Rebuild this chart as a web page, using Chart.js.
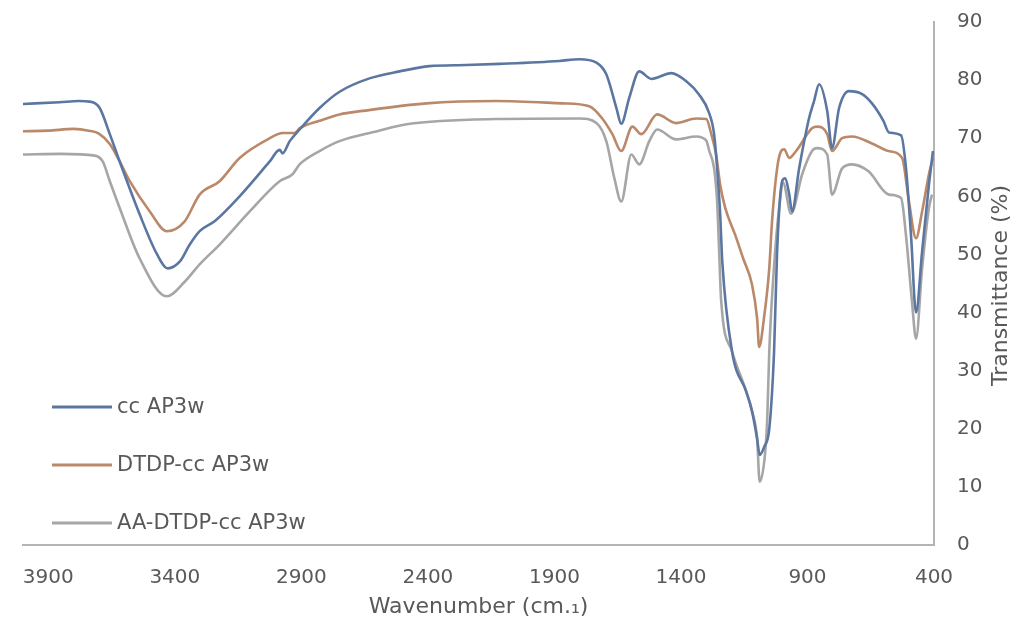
<!DOCTYPE html>
<html>
<head>
<meta charset="utf-8">
<title>FTIR spectra</title>
<script src="https://cdn.jsdelivr.net/npm/chart.js@4.4.1/dist/chart.umd.min.js"></script>
<style>
  html, body { margin: 0; padding: 0; background: #fff; }
</style>
</head>
<body>
<canvas id="ftirChart" width="1016" height="628"></canvas>
<script>
// --- DATA ---
const seriesLabels = ["cc AP3w", "DTDP-cc AP3w", "AA-DTDP-cc AP3w"];
const xTicks = [400, 900, 1400, 1900, 2400, 2900, 3400, 3900];

// cc AP3w
const ccWn = [4000, 3855, 3780, 3736, 3697, 3657, 3618, 3539, 3470, 3428, 3380, 3341, 3302, 3243, 3144, 3025, 2986, 2974, 2946, 2907, 2828, 2749, 2631, 2512, 2394, 2250, 2117, 1881, 1802, 1734, 1695, 1655, 1636, 1604, 1565, 1517, 1438, 1379, 1328, 1290, 1269, 1257, 1245, 1237, 1198, 1142, 1119, 1099, 1089, 1070, 1051, 1032, 1020, 1000, 988, 972, 961, 933, 894, 874, 854, 822, 803, 775, 736, 684, 645, 600, 578, 530, 511, 491, 471, 447, 420, 404];
const ccT  = [75.9, 76.2, 76.4, 76.3, 75.2, 70.7, 66, 56.9, 50, 47.6, 48.8, 51.7, 54, 55.7, 60, 66, 68, 67.4, 69.5, 71.5, 75.2, 78, 80.3, 81.5, 82.4, 82.6, 82.8, 83.3, 83.6, 83, 81, 75.2, 72.5, 77, 81.5, 80.2, 81.2, 79.8, 77.5, 74.5, 70.7, 64.8, 57, 49, 33.3, 26.4, 23, 18.3, 15.5, 17, 20, 33.3, 50.5, 62.6, 63.1, 60.3, 57.4, 64.8, 73.4, 76.4, 79.3, 74.7, 68.3, 75.2, 78.1, 77.6, 76, 73, 71, 70.5, 65, 53.4, 40, 50.5, 62, 67.8];

// DTDP-cc AP3w
const dtdpWn = [4000, 3900, 3800, 3740, 3700, 3657, 3618, 3578, 3499, 3432, 3361, 3302, 3223, 3144, 3025, 2974, 2927, 2907, 2828, 2749, 2658, 2406, 2129, 1869, 1762, 1711, 1671, 1636, 1592, 1557, 1494, 1419, 1340, 1300, 1280, 1261, 1245, 1225, 1186, 1154, 1119, 1099, 1091, 1072, 1051, 1040, 1020, 1004, 992, 972, 945, 882, 862, 822, 803, 763, 724, 645, 580, 526, 499, 471, 447, 420, 404];
const dtdpT  = [71.2, 71.3, 71.6, 71.3, 70.8, 69, 66, 62.6, 57.4, 54, 55.7, 60.3, 62.6, 66.6, 70, 70.9, 70.9, 71.7, 73, 74.1, 74.7, 76, 76.4, 76, 75.5, 73.4, 70.7, 67.8, 72, 70.7, 74.1, 72.6, 73.4, 73.3, 70.7, 67.2, 62, 58, 53.4, 49.3, 44.8, 39, 34.1, 39, 47.6, 55.7, 64.8, 67.8, 68.1, 66.6, 67.8, 71.7, 72, 70.7, 67.8, 70, 70.3, 69.1, 67.8, 66.6, 59.1, 52.8, 57.4, 63.8, 66.6];

// AA-DTDP-cc AP3w
const aaWn = [4000, 3850, 3716, 3685, 3657, 3618, 3539, 3432, 3361, 3302, 3223, 3104, 2986, 2935, 2907, 2828, 2749, 2600, 2484, 2129, 1802, 1734, 1695, 1663, 1636, 1596, 1565, 1525, 1494, 1419, 1340, 1300, 1288, 1269, 1257, 1249, 1241, 1198, 1142, 1119, 1099, 1089, 1067, 1059, 1051, 1032, 1012, 996, 965, 921, 882, 862, 822, 803, 763, 724, 659, 578, 530, 511, 487, 471, 447, 420, 408];
const aaT  = [67.2, 67.3, 67, 66, 62.6, 58, 49.3, 42.8, 45.3, 48.3, 51.7, 57.4, 62.6, 63.8, 65.5, 67.8, 69.5, 71.2, 72.4, 73.3, 73.4, 72.6, 69.5, 63.1, 59.1, 67.2, 65.5, 69.5, 71.5, 69.8, 70.3, 69.6, 67.8, 64.8, 59.1, 50.5, 42, 33.3, 26.4, 23, 18.3, 10.9, 16, 21.7, 33.3, 48, 58, 62.3, 57, 63.8, 67.8, 68.3, 67.2, 60.3, 64.8, 65.5, 64.3, 60.3, 59.7, 53.4, 41.9, 35.5, 47.6, 58, 60.3];

const seriesColors = ["#5b77a1", "#b9896a", "#a6a6a6"];
const textColor = "#595959";
const axisColor = "#b4b4b4";
const FONT = "DejaVu Sans";

function toPoints(xs, ys) {
    return xs.map((x, i) => ({ x: x, y: ys[i] }));
}

// legend drawn inside the plot, lower-left, and the y title reading bottom-to-top
const overlayPlugin = {
    id: "overlay",
    afterDraw(chart) {
        const ctx = chart.ctx;
        const area = chart.chartArea;

        ctx.save();
        ctx.font = "21px '" + FONT + "'";
        ctx.textBaseline = "middle";
        ctx.textAlign = "left";
        chart.data.datasets.forEach((ds, i) => {
            const y = area.bottom - 138 + i * 58;
            ctx.strokeStyle = ds.borderColor;
            ctx.lineWidth = 3;
            ctx.beginPath();
            ctx.moveTo(area.left + 29, y);
            ctx.lineTo(area.left + 89, y);
            ctx.stroke();
            ctx.fillStyle = textColor;
            ctx.fillText(ds.label, area.left + 94, y + 1);
        });
        ctx.restore();

        const yScale = chart.scales.y;
        ctx.save();
        ctx.translate(yScale.right - 15, (area.top + area.bottom) / 2 + 2);
        ctx.rotate(-Math.PI / 2);
        ctx.font = "22px '" + FONT + "'";
        ctx.fillStyle = textColor;
        ctx.textAlign = "center";
        ctx.textBaseline = "middle";
        ctx.fillText("Transmittance (%)", 0, 0);
        ctx.restore();
    }
};

const ctx = document.getElementById("ftirChart").getContext("2d");
const chart = new Chart(ctx, {
    type: "line",
    data: {
        datasets: [
            { label: seriesLabels[0], data: toPoints(ccWn, ccT), borderColor: seriesColors[0] },
            { label: seriesLabels[1], data: toPoints(dtdpWn, dtdpT), borderColor: seriesColors[1] },
            { label: seriesLabels[2], data: toPoints(aaWn, aaT), borderColor: seriesColors[2] }
        ]
    },
    options: {
        responsive: false,
        animation: false,
        devicePixelRatio: 1,
        layout: { padding: { left: 23, top: 22, right: 0, bottom: 0 } },
        elements: {
            point: { radius: 0 },
            line: { borderWidth: 2.6, cubicInterpolationMode: "monotone", fill: false }
        },
        plugins: {
            legend: { display: false },
            tooltip: { enabled: false }
        },
        scales: {
            x: {
                type: "linear",
                reverse: true,
                min: 400,
                max: 4000,
                afterBuildTicks: (scale) => { scale.ticks = xTicks.map(v => ({ value: v })); },
                afterFit: (scale) => { scale.height = 83; },
                grid: { display: false, drawTicks: false },
                border: { display: true, color: axisColor, width: 2 },
                ticks: {
                    color: textColor,
                    font: { family: FONT, size: 20 },
                    padding: 21,
                    maxRotation: 0,
                    autoSkip: false,
                    callback: (value) => String(value)
                },
                title: {
                    display: true,
                    text: "Wavenumber (cm.\u2081)",
                    color: textColor,
                    font: { family: FONT, size: 22 },
                    padding: { top: 0, bottom: 8 }
                }
            },
            y: {
                position: "right",
                min: 0,
                max: 90,
                afterFit: (scale) => {
                    scale.width = 82;
                    scale.paddingTop = 0;
                    scale.paddingBottom = 0;
                },
                grid: { display: false, drawTicks: false },
                border: { display: true, color: axisColor, width: 2 },
                ticks: {
                    stepSize: 10,
                    color: textColor,
                    font: { family: FONT, size: 20 },
                    padding: 23,
                    callback: (value) => String(value)
                }
            }
        }
    },
    plugins: [overlayPlugin]
});
</script>
</body>
</html>
